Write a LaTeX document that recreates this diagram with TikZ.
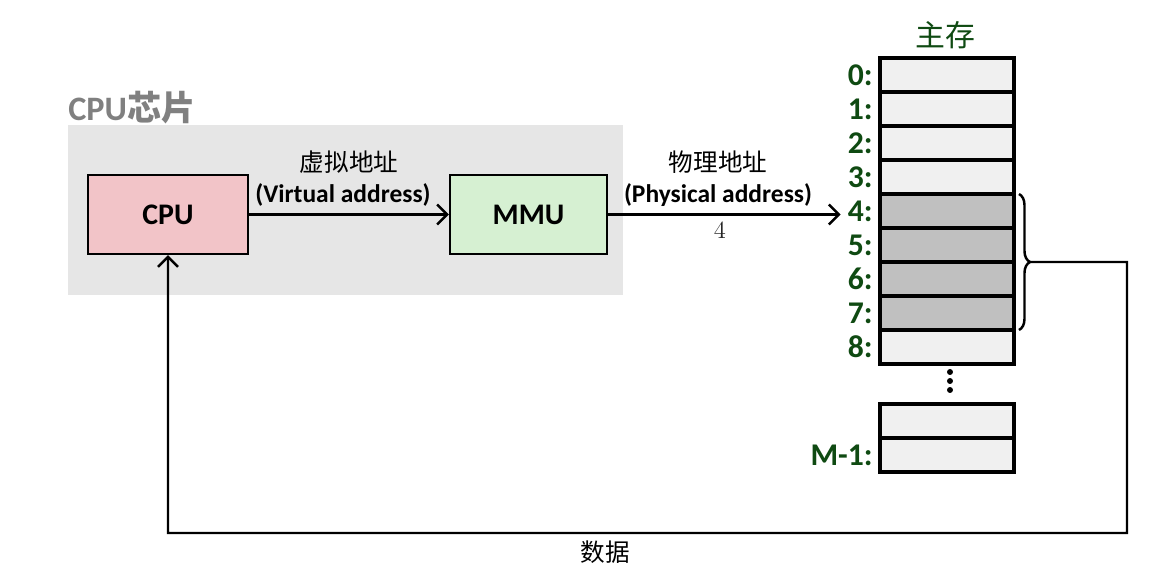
\documentclass[tikz,border=0pt]{standalone}
\usepackage{fontspec}
\newfontfamily\calibri{Carlito}
\newfontfamily\cjk{Noto Sans CJK SC}
\usetikzlibrary{arrows.meta,decorations.pathreplacing}

\definecolor{chipgray}{HTML}{E6E6E6}
\definecolor{cpupink}{HTML}{F2C4C8}
\definecolor{mmugreen}{HTML}{D6F0D2}
\definecolor{cellfill}{HTML}{F0F0F0}
\definecolor{cellgray}{HTML}{C0C0C0}
\definecolor{addrgreen}{HTML}{0F4A12}

\tikzset{
  unit/.style={draw, line width=1.3pt, minimum width=3.2cm, minimum height=1.58cm,
    font=\calibri\bfseries\fontsize{17}{20}\selectfont},
  cell/.style={draw, line width=1.8pt, fill=cellfill, minimum width=2.68cm,
    minimum height=0.68cm, outer sep=0pt, inner sep=0pt},
  addr/.style={anchor=east, text=addrgreen, inner sep=1pt,
    font=\calibri\bfseries\fontsize{18}{20}\selectfont},
  zh/.style={font=\cjk\fontsize{14}{16}\selectfont},
  en/.style={font=\calibri\bfseries\fontsize{14.5}{17}\selectfont},
  link/.style={line width=1.4pt, -{Straight Barb[length=2mm,width=4mm]}}
}

\begin{document}
\begin{tikzpicture}[x=0.02cm, y=-0.02cm]
\useasboundingbox (0,0) rectangle (1174,582);

% chip area
\node[fill=chipgray, minimum width=11.1cm, minimum height=3.4cm, inner sep=0pt] (chip) at (345.5,210) {};
\node[anchor=base west, text=black!50, inner sep=0pt, font=\calibri\bfseries\fontsize{19.5}{22}\selectfont] (chiplabel) at (68,120) {CPU{\cjk 芯片}};

\node[unit, fill=cpupink] (cpu) at (168,214.5) {CPU};
\node[unit, fill=mmugreen, minimum width=3.14cm] (mmu) at (528.5,214.5) {MMU};

% main memory
\node[text=addrgreen, font=\cjk\fontsize{17}{19}\selectfont] (mainmem) at (945,35) {主存};
\foreach \i/\col in {0/cellfill, 1/cellfill, 2/cellfill, 3/cellfill, 4/cellgray,
                     5/cellgray, 6/cellgray, 7/cellgray, 8/cellfill} {
  \node[cell, fill=\col] (c\i) at (947,{75+34*\i}) {};
  \node[addr] (l\i) at ([xshift=-3pt]c\i.west) {\i:};
}
\foreach \d in {372,381,390}
  \fill (950,\d) circle (1.7pt);
\node[cell] (cm) at (947,421) {};
\node[cell] (clast) at (947,455) {};
\node[addr] (llast) at ([xshift=-3pt]clast.west) {M-1:};

% addresses
\draw[link] (cpu) -- (mmu);
\node[zh] (vazh) at (349,162) {虚拟地址};
\node[en] (vaen) at (343,195) {(Virtual address)};

\coordinate (pa) at ([xshift=-3pt]l4.west |- mmu.east);
\draw[link] (mmu.east) -- (pa);
\node[zh] (pazh) at (718,162) {物理地址};
\node[en] (paen) at (718,195) {(Physical address)};
\node[text=black!85, font=\fontsize{14}{16}\selectfont] (panum) at (720,230) {4};

% data back to cpu
\draw[line width=1.4pt, decorate, decoration={brace, amplitude=0.22cm}]
  ([xshift=0.1cm]c4.north east) -- ([xshift=0.1cm]c7.south east);
\coordinate (tip) at ([xshift=0.32cm]c5.south east);
\coordinate (tr) at (1127,262);
\coordinate (br) at (1127,533);
\draw[link] (tip) -- (tr) -- (br) -| (cpu.south);
\node[zh] (data) at (605,552) {数据};
\end{tikzpicture}
\end{document}
